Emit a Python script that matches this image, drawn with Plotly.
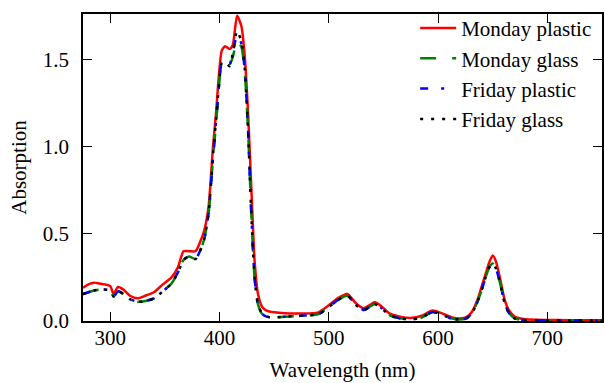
import plotly.graph_objects as go

wavelength = [275, 280, 285, 290, 295, 300, 303, 307, 312, 318, 325, 332, 340, 348, 356, 362,
              367, 372, 378, 382, 386, 390, 394, 397, 399, 402, 405, 409, 412, 416, 420, 423,
              426, 429, 432, 435, 439, 443, 450, 460, 475, 490, 500, 508, 517, 525, 532, 537,
              542, 548, 555, 565, 576, 585, 595, 603, 612, 620, 626, 631, 636, 640, 644, 647,
              650, 653, 657, 661, 665, 670, 680, 700, 720, 750]

monday_plastic = [0.19, 0.21, 0.22, 0.215, 0.21, 0.20, 0.155, 0.195, 0.18, 0.145, 0.13, 0.145,
                  0.165, 0.21, 0.25, 0.31, 0.40, 0.40, 0.40, 0.45, 0.52, 0.66, 1.00, 1.21, 1.38,
                  1.55, 1.575, 1.56, 1.58, 1.75, 1.69, 1.52, 1.20, 0.77, 0.35, 0.16, 0.08, 0.06,
                  0.05, 0.044, 0.043, 0.048, 0.09, 0.13, 0.155, 0.10, 0.073, 0.09, 0.107, 0.085,
                  0.045, 0.025, 0.018, 0.03, 0.06, 0.045, 0.022, 0.015, 0.022, 0.053, 0.12, 0.20,
                  0.28, 0.34, 0.375, 0.34, 0.235, 0.12, 0.06, 0.025, 0.01, 0.006, 0.005, 0.005]

monday_glass = [0.155, 0.165, 0.175, 0.18, 0.18, 0.175, 0.14, 0.17, 0.155, 0.125, 0.11, 0.115,
                0.13, 0.17, 0.215, 0.28, 0.35, 0.37, 0.355, 0.40, 0.47, 0.62, 0.93, 1.15, 1.30,
                1.48, 1.49, 1.47, 1.51, 1.61, 1.57, 1.43, 1.10, 0.62, 0.25, 0.10, 0.04, 0.025,
                0.02, 0.025, 0.03, 0.038, 0.08, 0.12, 0.145, 0.09, 0.063, 0.08, 0.097, 0.075,
                0.035, 0.015, 0.01, 0.02, 0.052, 0.037, 0.015, 0.008, 0.015, 0.045, 0.11, 0.18,
                0.26, 0.31, 0.33, 0.30, 0.21, 0.10, 0.045, 0.015, 0.005, 0.003, 0.003, 0.003]

friday_plastic = [0.155, 0.165, 0.175, 0.18, 0.18, 0.175, 0.14, 0.17, 0.155, 0.125, 0.11, 0.115,
                  0.13, 0.17, 0.215, 0.28, 0.35, 0.37, 0.355, 0.40, 0.47, 0.62, 0.94, 1.16, 1.31,
                  1.48, 1.49, 1.47, 1.53, 1.64, 1.59, 1.44, 1.10, 0.62, 0.25, 0.10, 0.04, 0.025,
                  0.02, 0.025, 0.03, 0.038, 0.08, 0.12, 0.145, 0.09, 0.063, 0.08, 0.097, 0.075,
                  0.035, 0.015, 0.01, 0.02, 0.052, 0.037, 0.015, 0.008, 0.015, 0.045, 0.11, 0.18,
                  0.26, 0.31, 0.33, 0.30, 0.21, 0.10, 0.045, 0.015, 0.005, 0.003, 0.003, 0.003]

friday_glass = [0.155, 0.165, 0.175, 0.18, 0.18, 0.175, 0.14, 0.17, 0.155, 0.125, 0.11, 0.115,
                0.13, 0.17, 0.215, 0.28, 0.35, 0.37, 0.355, 0.40, 0.47, 0.62, 0.95, 1.17, 1.32,
                1.48, 1.49, 1.46, 1.53, 1.665, 1.60, 1.45, 1.10, 0.62, 0.25, 0.10, 0.04, 0.025,
                0.02, 0.025, 0.03, 0.038, 0.08, 0.12, 0.145, 0.09, 0.063, 0.08, 0.097, 0.075,
                0.035, 0.015, 0.01, 0.02, 0.052, 0.037, 0.015, 0.008, 0.015, 0.045, 0.11, 0.18,
                0.26, 0.31, 0.33, 0.30, 0.21, 0.10, 0.045, 0.015, 0.005, 0.003, 0.003, 0.003]

series = [
    ("Monday plastic", monday_plastic, "#ff0000", "solid"),
    ("Monday glass", monday_glass, "#008000", "16px,16px"),
    ("Friday plastic", friday_plastic, "#0000ff", "8px,13px,3px,13px"),
    ("Friday glass", friday_glass, "#000000", "3px,8px"),
]

FONT = "Liberation Serif, Times New Roman, serif"
FS = 21

fig = go.Figure()
for i, (name, vals, color, dash) in enumerate(series):
    fig.add_trace(go.Scatter(
        x=wavelength, y=vals, name=name, mode="lines",
        line=dict(color=color, width=2.5, dash=dash, shape="spline", smoothing=0.6),
        legendgroup=f"g{i}",
    ))

axis_common = dict(
    showline=True, linecolor="black", linewidth=1.8, mirror="ticks",
    ticks="inside", ticklen=9, tickwidth=1.3, tickcolor="black",
    showgrid=False, zeroline=False,
    tickfont=dict(family=FONT, size=FS, color="black"),
)

fig.update_layout(
    width=604, height=383,
    margin=dict(l=83, r=2, t=14, b=62, autoexpand=False),
    paper_bgcolor="white", plot_bgcolor="white",
    font=dict(family=FONT, size=FS, color="black"),
    xaxis=dict(range=[275, 750], tickvals=[300, 400, 500, 600, 700],
               ticklabelstandoff=-3,
               title=dict(text="Wavelength (nm)", font=dict(family=FONT, size=FS), standoff=13),
               **axis_common),
    yaxis=dict(range=[0, 1.76], tickvals=[0, 0.5, 1.0, 1.5], tickformat=".1f",
               ticklabelstandoff=8,
               title=dict(text="Absorption", font=dict(family=FONT, size=FS), standoff=10),
               **axis_common),
    legend=dict(x=0.640, y=1.02, xanchor="left", yanchor="top",
                bgcolor="rgba(0,0,0,0)", borderwidth=0,
                font=dict(family=FONT, size=FS), tracegroupgap=0, itemwidth=36),
    showlegend=True,
)

fig.write_html("out.html", config={"displayModeBar": False},
               post_script="document.body.style.margin='0';")
